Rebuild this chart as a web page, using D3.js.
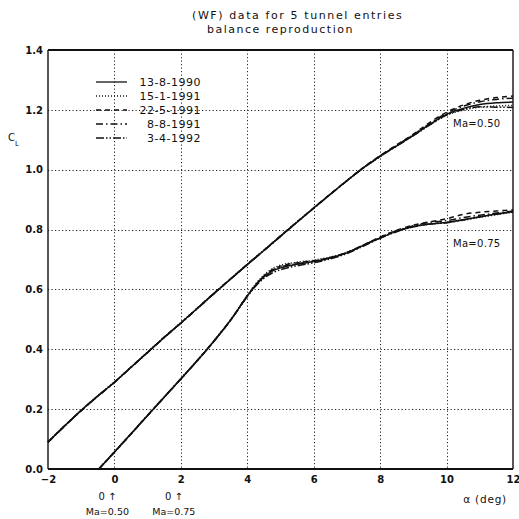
<!DOCTYPE html>
<html>
<head>
<meta charset="utf-8">
<script src="https://cdn.jsdelivr.net/npm/d3@7"></script>
<style>
  html, body { margin: 0; padding: 0; background: #fff; }
  svg { display: block; }
  text { font-family: "DejaVu Sans", sans-serif; fill: #111; }
</style>
</head>
<body>
<svg id="chart" width="519" height="519"></svg>
<script>
// ---- data -------------------------------------------------------------
const titleLines = ["(WF) data for 5 tunnel entries", "balance reproduction"];
const runDates = ["13-8-1990", "15-1-1991", "22-5-1991", "8-8-1991", "3-4-1992"];
const alphaTicks = [-2, 0, 2, 4, 6, 8, 10, 12];
const clTicks = [0.0, 0.2, 0.4, 0.6, 0.8, 1.0, 1.2, 1.4];
const machLabels = ["Ma=0.50", "Ma=0.75"];

// angle of attack (deg), Ma = 0.50
const alphaMa050 = [-2, -1.5, -1, -0.5, 0, 0.5, 1, 1.5, 2, 2.5, 3, 3.5, 4, 4.5, 5, 5.5,
  6, 6.5, 7, 7.5, 8, 8.5, 9, 9.5, 10, 10.5, 11, 11.5, 12];
// lift coefficient per tunnel entry, Ma = 0.50
const clMa050_130890 = [0.090, 0.144, 0.196, 0.244, 0.290, 0.340, 0.390, 0.440, 0.488, 0.537, 0.587, 0.635, 0.683, 0.730, 0.778, 0.825,
  0.872, 0.918, 0.963, 1.007, 1.045, 1.080, 1.115, 1.152, 1.185, 1.205, 1.218, 1.224, 1.226];
const clMa050_150191 = [0.091, 0.145, 0.196, 0.245, 0.291, 0.340, 0.391, 0.440, 0.489, 0.538, 0.587, 0.636, 0.684, 0.731, 0.778, 0.826,
  0.872, 0.918, 0.964, 1.006, 1.044, 1.080, 1.114, 1.150, 1.182, 1.199, 1.209, 1.213, 1.215];
const clMa050_220591 = [0.090, 0.144, 0.195, 0.244, 0.290, 0.341, 0.390, 0.441, 0.488, 0.538, 0.588, 0.636, 0.684, 0.731, 0.779, 0.826,
  0.873, 0.919, 0.964, 1.008, 1.047, 1.083, 1.119, 1.158, 1.192, 1.216, 1.232, 1.241, 1.246];
const clMa050_080891 = [0.089, 0.143, 0.195, 0.243, 0.289, 0.339, 0.389, 0.439, 0.487, 0.536, 0.586, 0.635, 0.683, 0.730, 0.777, 0.825,
  0.871, 0.917, 0.963, 1.007, 1.046, 1.082, 1.117, 1.155, 1.189, 1.212, 1.227, 1.235, 1.239];
const clMa050_030492 = [0.090, 0.144, 0.196, 0.244, 0.290, 0.340, 0.390, 0.440, 0.488, 0.537, 0.587, 0.635, 0.683, 0.730, 0.778, 0.825,
  0.872, 0.918, 0.963, 1.006, 1.044, 1.079, 1.114, 1.150, 1.183, 1.201, 1.210, 1.209, 1.208];

// angle of attack (deg), Ma = 0.75
const alphaMa075 = [-0.47, 0, 0.5, 1, 1.5, 2, 2.5, 3, 3.5, 4, 4.25, 4.5, 4.75, 5, 5.5, 6,
  6.5, 7, 7.5, 8, 8.5, 9, 9.5, 10, 10.5, 11, 11.5, 12];
// lift coefficient per tunnel entry, Ma = 0.75
const clMa075_130890 = [0.000, 0.057, 0.118, 0.179, 0.240, 0.301, 0.363, 0.428, 0.498, 0.578, 0.614, 0.642, 0.661, 0.672, 0.684, 0.693,
  0.705, 0.722, 0.747, 0.772, 0.794, 0.810, 0.819, 0.824, 0.833, 0.843, 0.852, 0.860];
const clMa075_150191 = [0.000, 0.057, 0.118, 0.180, 0.241, 0.302, 0.364, 0.429, 0.499, 0.580, 0.618, 0.648, 0.669, 0.681, 0.691, 0.698,
  0.708, 0.724, 0.748, 0.773, 0.795, 0.810, 0.818, 0.823, 0.831, 0.841, 0.850, 0.858];
const clMa075_220591 = [0.000, 0.056, 0.117, 0.179, 0.240, 0.301, 0.363, 0.428, 0.498, 0.579, 0.616, 0.645, 0.666, 0.678, 0.689, 0.696,
  0.707, 0.724, 0.749, 0.775, 0.798, 0.815, 0.826, 0.836, 0.851, 0.858, 0.862, 0.866];
const clMa075_080891 = [0.000, 0.057, 0.118, 0.180, 0.241, 0.302, 0.363, 0.428, 0.498, 0.578, 0.615, 0.644, 0.664, 0.675, 0.686, 0.694,
  0.706, 0.723, 0.748, 0.774, 0.796, 0.813, 0.824, 0.830, 0.840, 0.848, 0.855, 0.862];
const clMa075_030492 = [0.000, 0.056, 0.117, 0.179, 0.240, 0.301, 0.362, 0.427, 0.497, 0.576, 0.611, 0.637, 0.655, 0.666, 0.679, 0.689,
  0.702, 0.720, 0.745, 0.771, 0.793, 0.809, 0.819, 0.823, 0.832, 0.842, 0.851, 0.859];

const seriesMa050 = [clMa050_130890, clMa050_150191, clMa050_220591, clMa050_080891, clMa050_030492];
const seriesMa075 = [clMa075_130890, clMa075_150191, clMa075_220591, clMa075_080891, clMa075_030492];

// ---- layout -----------------------------------------------------------
const plot = { left: 48, right: 513, top: 50, bottom: 469 };
const dashes = [null, "1,2", "5,4", "7,3,1.5,3", "8,2,1.5,2,1.5,2"];

const svg = d3.select("#chart");
svg.append("rect").attr("width", 519).attr("height", 519).attr("fill", "#fff");

const x = d3.scaleLinear().domain([-2, 12]).range([plot.left, plot.right]);
const y = d3.scaleLinear().domain([0, 1.4]).range([plot.bottom, plot.top]);
const snap = v => Math.round(v) + 0.5;

// dotted grid
const grid = svg.append("g").attr("stroke", "#222").attr("stroke-width", 1)
  .attr("stroke-dasharray", "1.2,2.3").attr("fill", "none");
grid.selectAll("line.v").data(alphaTicks.slice(1, -1)).join("line").attr("class", "v")
  .attr("x1", d => snap(x(d))).attr("x2", d => snap(x(d)))
  .attr("y1", plot.top).attr("y2", plot.bottom);
grid.selectAll("line.h").data(clTicks.slice(1, -1)).join("line").attr("class", "h")
  .attr("x1", plot.left).attr("x2", plot.right)
  .attr("y1", d => snap(y(d))).attr("y2", d => snap(y(d)));

// axes (labels only)
const xAxis = svg.append("g").attr("transform", `translate(0,${plot.bottom})`)
  .call(d3.axisBottom(x).tickValues(alphaTicks).tickSize(0).tickPadding(7).tickFormat(d3.format("d")));
const yAxis = svg.append("g").attr("transform", `translate(${plot.left},0)`)
  .call(d3.axisLeft(y).tickValues(clTicks).tickSize(0).tickPadding(5).tickFormat(d3.format(".1f")));
[xAxis, yAxis].forEach(g => {
  g.select(".domain").remove();
  g.selectAll("text").attr("font-family", "DejaVu Sans, sans-serif")
    .attr("font-size", 10).attr("font-weight", "bold").attr("fill", "#111");
});

// frame
const frame = svg.append("g").attr("stroke", "#111").attr("fill", "none");
frame.append("line").attr("x1", plot.left).attr("x2", plot.right).attr("y1", plot.top).attr("y2", plot.top).attr("stroke-width", 2);
frame.append("line").attr("x1", plot.left).attr("x2", plot.right).attr("y1", plot.bottom).attr("y2", plot.bottom).attr("stroke-width", 2);
frame.append("line").attr("x1", plot.left).attr("x2", plot.left).attr("y1", plot.top).attr("y2", plot.bottom).attr("stroke-width", 1.4);
frame.append("line").attr("x1", plot.right).attr("x2", plot.right).attr("y1", plot.top).attr("y2", plot.bottom).attr("stroke-width", 1.4);

// curves
const line = d3.line().x(d => x(d[0])).y(d => y(d[1])).curve(d3.curveMonotoneX);
const curves = svg.append("g").attr("fill", "none").attr("stroke", "#111")
  .attr("stroke-width", 1.5).attr("stroke-linejoin", "round");
[[alphaMa050, seriesMa050], [alphaMa075, seriesMa075]].forEach(([alpha, series]) => {
  series.forEach((cl, i) => {
    curves.append("path")
      .attr("d", line(alpha.map((a, k) => [a, cl[k]])))
      .attr("stroke-dasharray", dashes[i]);
  });
});

// Mach labels at the curve ends
svg.append("text").attr("x", 453).attr("y", 127).attr("font-size", 10)
  .attr("letter-spacing", 0.3).text(machLabels[0]);
svg.append("text").attr("x", 453).attr("y", 247).attr("font-size", 10)
  .attr("letter-spacing", 0.3).text(machLabels[1]);

// legend
const legend = svg.append("g");
runDates.forEach((d, i) => {
  const ly = 82 + i * 14;
  legend.append("line").attr("x1", 96).attr("x2", 127).attr("y1", ly).attr("y2", ly)
    .attr("stroke", "#111").attr("stroke-width", 1.3).attr("stroke-dasharray", dashes[i]);
  legend.append("text").attr("x", 201).attr("y", ly + 4).attr("text-anchor", "end")
    .attr("font-size", 11).attr("letter-spacing", 0.5).text(d);
});

// title
svg.append("text").attr("x", 192).attr("y", 19).attr("font-size", 11)
  .attr("letter-spacing", 1.6).text(titleLines[0]);
svg.append("text").attr("x", 207).attr("y", 33).attr("font-size", 11)
  .attr("letter-spacing", 1.5).text(titleLines[1]);

// axis titles
const clLabel = svg.append("text").attr("x", 8).attr("y", 141).attr("font-size", 10);
clLabel.append("tspan").text("C");
clLabel.append("tspan").attr("font-size", 7).attr("dy", 5).text("L");
svg.append("text").attr("x", 507).attr("y", 503).attr("text-anchor", "end")
  .attr("font-size", 10.5).attr("letter-spacing", 0.8).text("α (deg)");

// zero-lift markers below the axis
[[0, machLabels[0]], [2, machLabels[1]]].forEach(([a, lab]) => {
  svg.append("text").attr("x", x(a) - 7).attr("y", 500).attr("text-anchor", "middle")
    .attr("font-size", 10).text("0 ↑");
  svg.append("text").attr("x", x(a) - 7).attr("y", 515).attr("text-anchor", "middle")
    .attr("font-size", 9.5).text(lab);
});
</script>
</body>
</html>
